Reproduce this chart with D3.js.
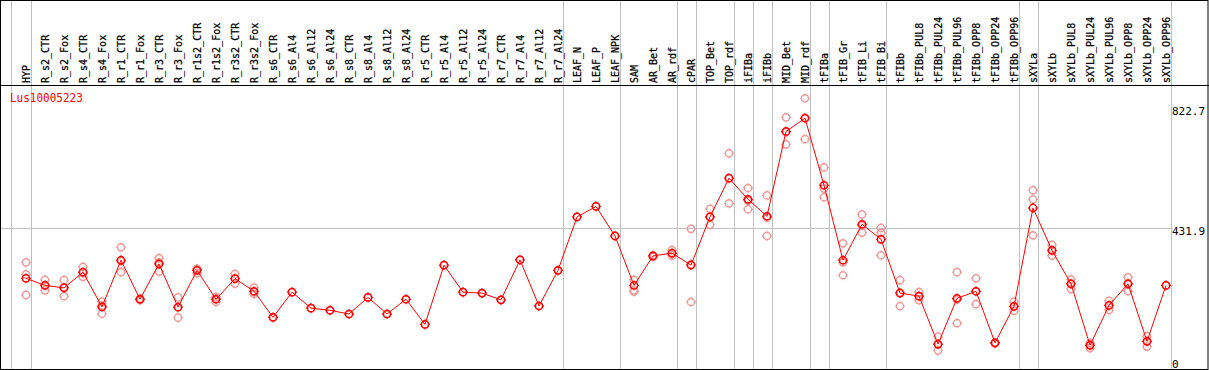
<!DOCTYPE html>
<html>
<head>
<meta charset="utf-8">
<script src="https://cdn.jsdelivr.net/npm/d3@7"></script>
<style>
  body { margin: 0; background: #fff; }
  svg { display: block; }
  text { font-family: "DejaVu Sans Mono", "Liberation Mono", monospace; }
</style>
</head>
<body>
<div id="chart"></div>
<script>
const width = 1209;
const height = 370;

const geneName = 'Lus10005223';

const categories = ['HYP', 'R_s2_CTR', 'R_s2_Fox', 'R_s4_CTR', 'R_s4_Fox', 'R_r1_CTR', 'R_r1_Fox',
  'R_r3_CTR', 'R_r3_Fox', 'R_r1s2_CTR', 'R_r1s2_Fox', 'R_r3s2_CTR', 'R_r3s2_Fox', 'R_s6_CTR',
  'R_s6_Al4', 'R_s6_Al12', 'R_s6_Al24', 'R_s8_CTR', 'R_s8_Al4', 'R_s8_Al12', 'R_s8_Al24',
  'R_r5_CTR', 'R_r5_Al4', 'R_r5_Al12', 'R_r5_Al24', 'R_r7_CTR', 'R_r7_Al4', 'R_r7_Al12', 'R_r7_Al24',
  'LEAF_N', 'LEAF_P', 'LEAF_NPK', 'SAM', 'AR_Bet', 'AR_rdf', 'cPAR', 'TOP_Bet', 'TOP_rdf',
  'iFIBa', 'iFIBb', 'MID_Bet', 'MID_rdf', 'tFIBa', 'tFIB_Gr', 'tFIB_Li', 'tFIB_Bi', 'tFIBb',
  'tFIBb_PUL8', 'tFIBb_PUL24', 'tFIBb_PUL96', 'tFIBb_OPP8', 'tFIBb_OPP24', 'tFIBb_OPP96',
  'sXYLa', 'sXYLb', 'sXYLb_PUL8', 'sXYLb_PUL24', 'sXYLb_PUL96', 'sXYLb_OPP8', 'sXYLb_OPP24', 'sXYLb_OPP96'];

// mean expression per sample
const meanValues = [269, 246, 238, 289, 176, 328, 201, 316, 175, 295, 201, 268, 227, 142,
  224, 172, 165, 153, 207, 153, 201, 119, 312, 224, 221, 199, 329, 179, 295,
  469, 503, 407, 246, 342, 351, 312, 469, 595, 526, 471, 747, 790, 572, 328, 445, 396, 221,
  211, 55, 204, 227, 59, 178, 498, 360, 251, 51, 181, 251, 64, 246];

// individual replicates (light markers)
const replicateValues = [
  [321, 282, 215], [264, 246, 230], [263, 240, 211], [306, 286, 274], [193, 180, 154],
  [370, 325, 289], [203, 201, 198], [335, 321, 291], [207, 176, 141], [299, 300, 286],
  [208, 202, 192], [284, 268, 252], [239, 224, 218], [142], [224], [172], [165], [153],
  [207], [153], [201], [119], [312], [224], [221], [199], [329], [179], [295],
  [469], [503], [407], [264, 230, 226], [344, 342, 339], [361, 349, 343], [430, 315, 192],
  [495, 469, 443], [676, 595, 513], [563, 522, 494], [539, 467, 407], [793, 745, 705],
  [855, 792, 722], [630, 561, 533], [383, 321, 279], [477, 441, 418], [433, 417, 344],
  [263, 222, 179], [224, 210, 198], [79, 53, 34], [289, 200, 123], [269, 227, 185],
  [60, 58, 57], [193, 178, 163], [556, 526, 409], [378, 360, 343], [265, 252, 234],
  [58, 53, 42], [196, 181, 166], [272, 253, 227], [81, 64, 47], [246]];

// sample index after which a group separator is drawn
const groupEnds = [0, 28, 31, 34, 35, 37, 38, 39, 41, 42, 45, 52, 53, 60];

const axisTicks = [0, 431.9, 822.7];

const svg = d3.select('#chart').
append('svg').
attr('width', width).
attr('height', height);

const x = d3.scalePoint().
domain(categories).
range([26, 1166]);

const y = d3.scaleLinear().
domain([0, 822.7]).
range([361, 108.2]);

const headerBottom = 85.5;
const step = x.step();

//separators
const sepX = [x(categories[0]) - step * 0.8].concat(groupEnds.map(i => x(categories[i]) + 4.5));
svg.selectAll('.sep').
data(sepX).
enter().append('line').
attr('class', 'sep').
attr('x1', d => Math.round(d) + 0.5).
attr('x2', d => Math.round(d) + 0.5).
attr('y1', 0).
attr('y2', height).
attr('stroke', '#c0c0c0').
attr('stroke-width', 1);

//mid gridline
svg.append('line').
attr('x1', 0).
attr('x2', sepX[sepX.length - 1] + 2).
attr('y1', Math.round(y(axisTicks[1])) + 0.5).
attr('y2', Math.round(y(axisTicks[1])) + 0.5).
attr('stroke', '#c0c0c0');

//header labels
svg.selectAll('.cat').
data(categories).
enter().append('text').
attr('class', 'cat').
attr('transform', d => 'translate(' + (Math.round(x(d)) + 4.2) + ',' + 83 + ') rotate(-90)').
attr('font-size', 10).
attr('fill', '#000').
attr('stroke', '#000').
attr('stroke-width', 0.25).
text(d => d);

//borders
svg.append('rect').
attr('x', 0.5).
attr('y', 0.5).
attr('width', width - 1.5).
attr('height', height - 1).
attr('fill', 'none').
attr('stroke', '#000');

svg.append('line').
attr('x1', 0).
attr('x2', width).
attr('y1', headerBottom).
attr('y2', headerBottom).
attr('stroke', '#000');

//title
svg.append('text').
attr('x', 10).
attr('y', 103).
attr('font-size', 11).
attr('fill', '#ff0000').
attr('transform', 'translate(0,-16) scale(1,1.15)').
text(geneName);

//axis labels
svg.selectAll('.tick').
data(axisTicks).
enter().append('text').
attr('class', 'tick').
attr('x', 1172).
attr('y', d => Math.round(y(d)) + 7).
attr('font-size', 11).
attr('fill', '#000').
text(d => d === 0 ? '0' : d3.format('.1f')(d));

function marker(g, color) {
  g.append('circle').
  attr('r', 3.6).
  attr('fill', 'none').
  attr('stroke', color).
  attr('stroke-width', 1.5);
  g.append('path').
  attr('d', 'M0,-5V-4M0,4V5M-5,0H-4M4,0H5').
  attr('stroke', color).
  attr('stroke-width', 1);
}

//replicates
const reps = [];
replicateValues.forEach((vals, i) => vals.forEach(v => reps.push({ cat: categories[i], v: v })));
svg.selectAll('.rep').
data(reps).
enter().append('g').
attr('class', 'rep').
attr('transform', d => 'translate(' + x(d.cat) + ',' + y(d.v) + ')').
each(function () {marker(d3.select(this), '#f09a9a');});

//mean line
const line = d3.line().
x((d, i) => x(categories[i])).
y(d => y(d));

svg.append('path').
datum(meanValues).
attr('d', line).
attr('fill', 'none').
attr('stroke', '#ff0000').
attr('stroke-width', 1);

svg.selectAll('.mean').
data(meanValues).
enter().append('g').
attr('class', 'mean').
attr('transform', (d, i) => 'translate(' + x(categories[i]) + ',' + y(d) + ')').
each(function () {marker(d3.select(this), '#ff0000');});
</script>
</body>
</html>
